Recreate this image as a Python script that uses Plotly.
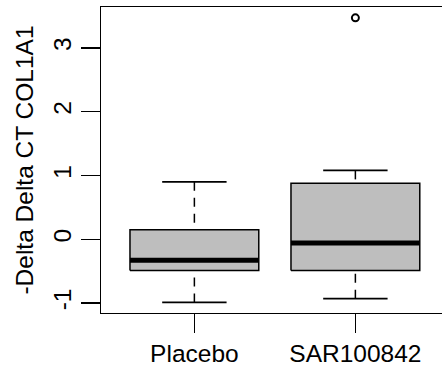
import plotly.graph_objects as go

groups = ["Placebo", "SAR100842"]
lower_whisker = [-0.99, -0.93]
q1 = [-0.49, -0.49]
median = [-0.33, -0.06]
q3 = [0.15, 0.88]
upper_whisker = [0.90, 1.08]
outlier_group = ["SAR100842"]
outlier_value = [3.47]
y_ticks = [-1, 0, 1, 2, 3]

FONT = "Liberation Sans, Arial, sans-serif"
BOX_HALF = 0.4
CAP_HALF = 0.2

fig = go.Figure()
for i, g in enumerate(groups):
    c = i + 1
    # box
    fig.add_trace(go.Scatter(
        x=[c - BOX_HALF, c + BOX_HALF, c + BOX_HALF, c - BOX_HALF, c - BOX_HALF],
        y=[q1[i], q1[i], q3[i], q3[i], q1[i]],
        mode="lines", fill="toself", fillcolor="#BEBEBE",
        line=dict(color="black", width=1.5), hoverinfo="skip", showlegend=False))
    # median
    fig.add_trace(go.Scatter(
        x=[c - BOX_HALF, c + BOX_HALF], y=[median[i], median[i]],
        mode="lines", line=dict(color="black", width=5), showlegend=False))
    # whiskers (dashed), drawn from extreme to hinge
    fig.add_trace(go.Scatter(
        x=[c, c], y=[upper_whisker[i], q3[i]], mode="lines",
        line=dict(color="black", width=1.5, dash="9px,7px"), showlegend=False))
    fig.add_trace(go.Scatter(
        x=[c, c], y=[lower_whisker[i], q1[i]], mode="lines",
        line=dict(color="black", width=1.5, dash="9px,7px"), showlegend=False))
    # caps
    for w in (upper_whisker[i], lower_whisker[i]):
        fig.add_trace(go.Scatter(
            x=[c - CAP_HALF, c + CAP_HALF], y=[w, w], mode="lines",
            line=dict(color="black", width=1.8), showlegend=False))

fig.add_trace(go.Scatter(
    x=[groups.index(g) + 1 for g in outlier_group], y=outlier_value,
    mode="markers",
    marker=dict(symbol="circle-open", size=7, color="black", line=dict(width=2)),
    showlegend=False))

fig.update_layout(
    width=442, height=377,
    margin=dict(l=101, r=0, t=7, b=64, autoexpand=False),
    paper_bgcolor="white", plot_bgcolor="white",
    font=dict(family=FONT, size=24.5, color="black"),
    xaxis=dict(
        range=[0.42, 0.42 + 341 / 161], tickvals=[1, 2], ticktext=groups,
        showgrid=False, zeroline=False, showline=True, mirror=True,
        linecolor="black", linewidth=1, ticks="outside", ticklen=19,
        tickwidth=1.5, tickcolor="black", tickfont=dict(size=24.5),
        automargin=False),
    yaxis=dict(
        range=[-1.155, 3.64], tickvals=y_ticks, ticktext=[str(v) for v in y_ticks],
        showgrid=False, zeroline=False, showline=True, mirror=False,
        linecolor="black", linewidth=1, ticks="outside", ticklen=19,
        tickwidth=1.5, tickcolor="black", tickangle=-90, tickfont=dict(size=24.5),
        automargin=False,
        title=dict(text="-Delta Delta CT COL1A1", font=dict(size=24.5), standoff=8)),
)

fig.write_html(
    "out.html",
    config={"displayModeBar": False, "staticPlot": True},
    post_script="document.body.style.margin='0';document.body.style.overflow='hidden';",
)
